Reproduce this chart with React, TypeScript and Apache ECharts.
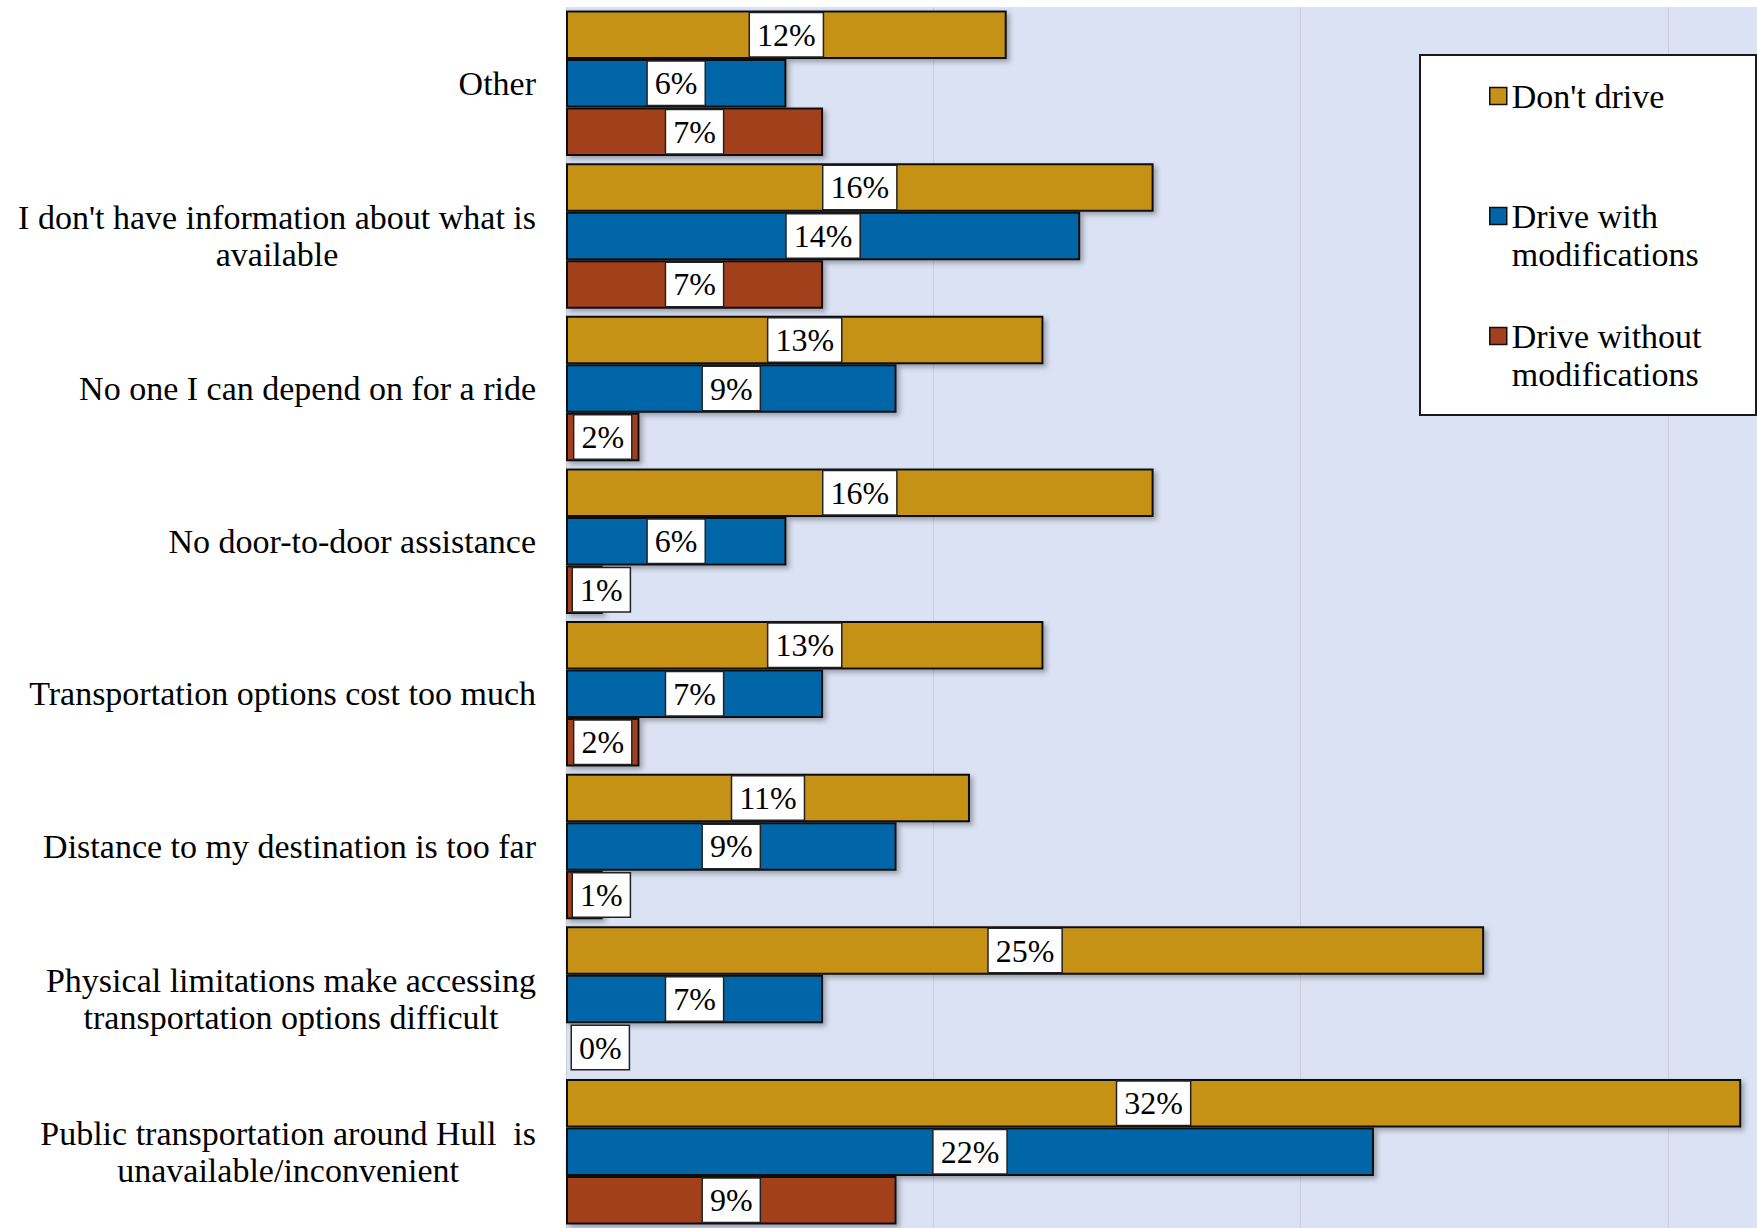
import React, { useEffect, useRef } from "react";
import * as echarts from "echarts";

const categories = [
  "Other",
  "I don't have information about what is\navailable",
  "No one I can depend on for a ride",
  "No door-to-door assistance",
  "Transportation options cost too much",
  "Distance to my destination is too far",
  "Physical limitations make accessing\ntransportation options difficult",
  "Public transportation around Hull  is\nunavailable/inconvenient",
];
const seriesNames = ["Don't drive", "Drive with modifications", "Drive without modifications"];
const legendLabels = ["Don't drive", "Drive with\nmodifications", "Drive without\nmodifications"];
const dontDrive = [12, 16, 13, 16, 13, 11, 25, 32];
const driveWith = [6, 14, 9, 6, 7, 9, 7, 22];
const driveWithout = [7, 7, 2, 1, 2, 1, 0, 9];
const xTickInterval = 10;
const xMax = 32.43;

const colors = ["#C69219", "#0066A8", "#A33F1F"];
const FONT = "'Liberation Serif', 'Times New Roman', serif";

export default function App() {
  const ref = useRef<HTMLDivElement>(null);
  useEffect(() => {
    if (!ref.current) return;
    const chart = echarts.init(ref.current, undefined, { renderer: "svg" });
    const allValues = [dontDrive, driveWith, driveWithout];
    const LH = 38;
    const iconCenters = [95.5, 216, 336];
    const option: any = {
      animation: false,
      backgroundColor: "#ffffff",
      grid: {
        left: 566,
        top: 7,
        width: 1191,
        height: 1225,
        show: true,
        backgroundColor: "#DAE2F3",
        borderWidth: 0,
        containLabel: false,
      },
      xAxis: {
        type: "value",
        min: 0,
        max: xMax,
        interval: xTickInterval,
        axisLabel: { show: false },
        axisLine: { show: false },
        axisTick: { show: false },
        splitLine: { show: true, lineStyle: { color: "#C9CED8", width: 1 } },
      },
      yAxis: {
        type: "category",
        data: categories,
        inverse: true,
        axisLine: { show: false },
        axisTick: { show: false },
        splitLine: { show: false },
        axisLabel: {
          margin: 30,
          align: "right",
          formatter: (v: string) =>
            v
              .split("\n")
              .map((l) => `{c|${l}}`)
              .join("\n"),
          rich: {
            c: {
              align: "center",
              fontFamily: FONT,
              fontSize: 34,
              lineHeight: 37,
              color: "#000",
            },
          },
        },
      },
      graphic: [
        {
          type: "rect",
          z: 3,
          shape: { x: 1420, y: 55, width: 336, height: 360 },
          style: { fill: "#ffffff", stroke: "#1a1a1a", lineWidth: 2 },
        },
      ],
      legend: seriesNames.map((name, i) => {
        const lines = legendLabels[i].split("\n").length;
        // a leading empty line keeps the swatch level with the first text line
        const text = lines > 1 ? "\n" + legendLabels[i] : legendLabels[i];
        const blockH = lines > 1 ? (lines + 1) * LH : LH;
        return {
          show: true,
          z: 5,
          orient: "vertical",
          left: 1489,
          top: Math.round(iconCenters[i] - blockH / 2),
          padding: 0,
          selectedMode: false,
          itemWidth: 17,
          itemHeight: 17,
          icon: "rect",
          data: [name],
          formatter: () => text,
          itemStyle: { borderColor: "#111", borderWidth: 1.5, shadowBlur: 0, shadowOffsetX: 0, shadowOffsetY: 0 },
          textStyle: {
            fontFamily: FONT,
            fontSize: 34,
            lineHeight: LH,
            color: "#000",
          },
        };
      }),
      series: seriesNames.map((name, si) => ({
        name,
        type: "bar",
        barGap: "0%",
        barCategoryGap: "4.6%",
        itemStyle: {
          color: colors[si],
          borderColor: "#111",
          borderWidth: 2,
          shadowColor: "rgba(0,0,0,0.3)",
          shadowBlur: 5,
          shadowOffsetX: 3,
          shadowOffsetY: 3,
        },
        label: {
          show: true,
          position: "inside",
          formatter: "{c}%",
          fontFamily: FONT,
          fontSize: 32,
          lineHeight: 37,
          color: "#000",
          backgroundColor: "#ffffff",
          borderColor: "#222",
          borderWidth: 1.5,
          padding: [4, 7, 2, 7],
        },
        data: allValues[si].map((v) =>
          v < 1.5
            ? {
                value: v,
                label: { position: [7, "50%"], align: "left", verticalAlign: "middle" },
              }
            : v
        ),
      })),
    };
    chart.setOption(option);
    return () => chart.dispose();
  }, []);
  return (
    <div
      ref={ref}
      style={{ position: "absolute", left: 0, top: 0, width: 1757, height: 1228 }}
    />
  );
}
